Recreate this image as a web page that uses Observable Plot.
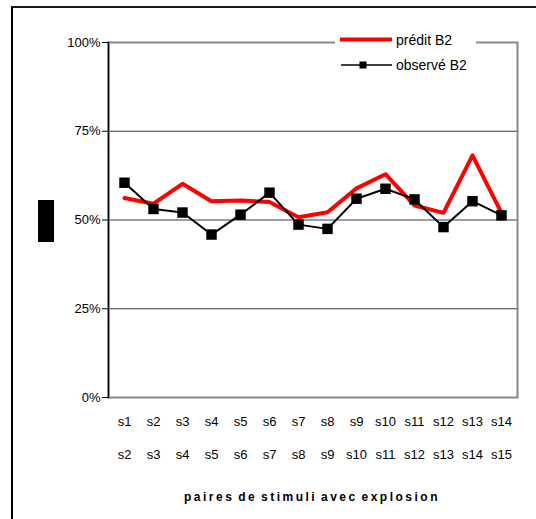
<!DOCTYPE html>
<html>
<head>
<meta charset="utf-8">
<script src="https://cdn.jsdelivr.net/npm/d3@7"></script>
<script src="https://cdn.jsdelivr.net/npm/@observablehq/plot@0.6"></script>
<style>
  html, body { margin: 0; padding: 0; background: #fff; }
  #wrap { position: relative; width: 536px; height: 519px; overflow: hidden; font-family: "Liberation Sans", Arial, sans-serif; }
  #outer { position: absolute; left: 11px; top: 6px; width: 600px; height: 600px; border-top: 2px solid #1a1a1a; border-left: 2px solid #000; box-sizing: border-box; }
  #chart { position: absolute; left: 0; top: 0; }
  #blk { position: absolute; left: 38px; top: 200px; width: 16px; height: 42px; background: #000; }
  #legend { position: absolute; left: 335px; top: 28px; width: 141px; height: 50px; background: #fff; }
  #legend svg { position: absolute; left: 0; top: 0; }
  .lt { position: absolute; left: 61px; font-size: 14px; color: #000; line-height: 16px; white-space: nowrap; }
  #title { position: absolute; left: 112px; width: 400px; top: 490px; text-align: center; font-size: 12px; font-weight: bold; letter-spacing: 2.5px; word-spacing: -2px; color: #000; }
</style>
</head>
<body>
<div id="wrap">
  <div id="outer"></div>
  <div id="chart"></div>
  <div id="blk"></div>
  <div id="legend">
    <svg width="141" height="50">
      <line x1="5" x2="57" y1="11.5" y2="11.5" stroke="#ff0000" stroke-width="4"></line>
      <line x1="6" x2="57" y1="37" y2="37" stroke="#000" stroke-width="1.5"></line>
      <rect x="24.5" y="33.5" width="7" height="7" fill="#000"></rect>
    </svg>
    <div class="lt" style="top:4px">prédit B2</div>
    <div class="lt" style="top:29px">observé B2</div>
  </div>
  <div id="title">paires de stimuli avec explosion</div>
</div>
<script>
const pairFrom = ["s1","s2","s3","s4","s5","s6","s7","s8","s9","s10","s11","s12","s13","s14"];
const pairTo = ["s2","s3","s4","s5","s6","s7","s8","s9","s10","s11","s12","s13","s14","s15"];
const predicted = [56.2,54.6,60.2,55.3,55.5,55.1,50.8,52.2,58.9,62.9,54.1,52.0,68.2,52.0];
const observed = [60.5,53.1,52.1,45.9,51.5,57.7,48.7,47.5,56.0,58.8,55.8,48.0,55.3,51.3];
const yTicks = [0, 0.25, 0.5, 0.75, 1];
const innerGrid = [0.25, 0.5, 0.75];

const table = pairFrom.map((p, i) => ({pair: p, predicted: predicted[i] / 100, observed: observed[i] / 100}));

const chart = Plot.plot({
  width: 536,
  height: 519,
  marginLeft: 108,
  marginRight: 19,
  marginTop: 42,
  marginBottom: 122,
  style: {fontFamily: "'Liberation Sans', Arial, sans-serif", fontSize: "13px", color: "#000", background: "transparent"},
  x: {type: "point", domain: pairFrom, padding: 0.5, axis: null},
  y: {domain: [0, 1], axis: null},
  marks: [
    Plot.ruleY(innerGrid, {stroke: "#3a3a3a", strokeWidth: 1}),
    Plot.frame({stroke: "#888", strokeWidth: 2}),
    Plot.frame({anchor: "left", stroke: "#000", strokeWidth: 1.5}),
    Plot.axisY({ticks: yTicks, tickFormat: d3.format(".0%"), tickSize: 6, tickPadding: 2, stroke: "#000", label: null, fontSize: 13}),
    Plot.axisX({tickSize: 0, tickPadding: 19, label: null, fontSize: 13}),
    Plot.axisX({tickSize: 0, tickPadding: 52, label: null, fontSize: 13, tickFormat: d => pairTo[pairFrom.indexOf(d)]}),
    Plot.line(table, {x: "pair", y: "predicted", stroke: "#ff0000", strokeWidth: 4}),
    Plot.line(table, {x: "pair", y: "observed", stroke: "#000", strokeWidth: 2}),
    Plot.dot(table, {x: "pair", y: "observed", symbol: "square", fill: "#000", stroke: "none", r: 5.9})
  ]
});
document.getElementById("chart").appendChild(chart);
</script>
</body>
</html>
